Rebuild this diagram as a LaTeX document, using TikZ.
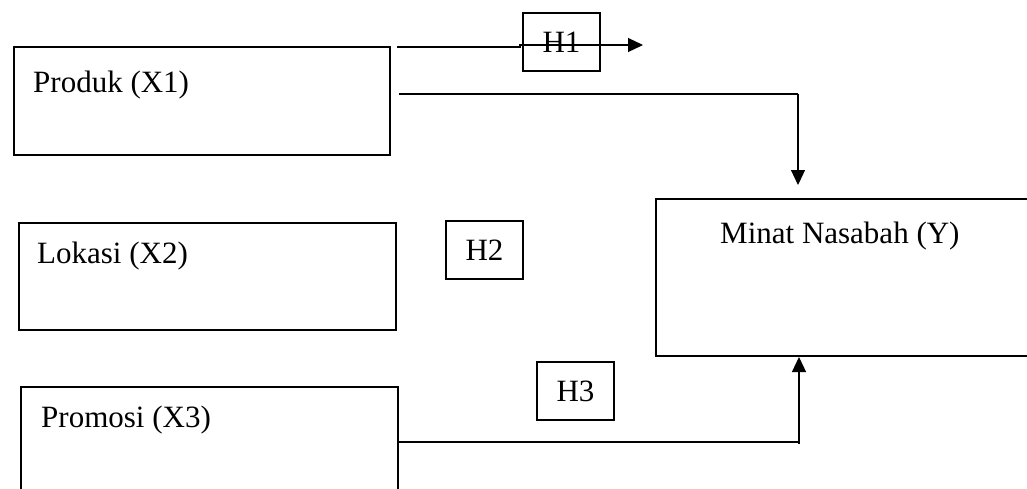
\documentclass[tikz,border=0pt]{standalone}
\usepackage{fontspec}
\setmainfont{Liberation Serif}
\usetikzlibrary{arrows.meta,calc}
\tikzset{
  box/.style={draw, line width=2pt, rectangle, inner sep=0pt, anchor=north west},
  hbox/.style={draw, line width=2pt, rectangle, inner sep=0pt, minimum width=77pt, minimum height=58pt, font=\fontsize{31}{36}\selectfont},
  txt/.style={inner sep=0pt, anchor=base west, font=\fontsize{31}{36}\selectfont},
  hline/.style={line width=1.8pt},
  vline/.style={line width=1.2pt},
  tip/.style={-{Triangle[length=15pt,width=14pt]}}
}
\begin{document}
\begin{tikzpicture}[x=1pt,y=-1pt]
\useasboundingbox (0,0) rectangle (1027,488);
\clip (0,0) rectangle (1027,488);
% boxes
\node[box, minimum width=376pt, minimum height=108pt] (X1) at (13,46) {};
\node[box, minimum width=377pt, minimum height=107pt] (X2) at (18,222) {};
\node[box, minimum width=377pt, minimum height=110pt] (X3) at (20,386) {};
\node[box, minimum width=385pt, minimum height=157pt] (Y) at (655,198) {};
% texts
\node[txt] (tX1) at (33,92) {Produk (X1)};
\node[txt] (tX2) at (37,263) {Lokasi (X2)};
\node[txt] (tX3) at (41,427) {Promosi (X3)};
\node[txt] (tY) at (720,243) {Minat Nasabah (Y)};
% hypothesis boxes
\node[hbox] (H1) at (561.5,42) {H1};
\node[hbox] (H2) at (484.5,250) {H2};
\node[hbox] (H3) at (575.5,391) {H3};
% connectors
\coordinate (a1s) at ($(X1.north east)+(6,1)$);
\coordinate (a1e) at ($(H1.east)+(42,3)$);
\draw[line width=1.2pt, tip] (a1s) -- ($(a1s)+(123,0)$) -- ($(a1s)+(123,-2)$) -- (a1e);
\coordinate (a2s) at ($(X1.east)+(8,-7)$);
\coordinate (a2e) at ($(Y.north west)+(143,-13)$);
\coordinate (a2c) at (a2s -| a2e);
\draw[hline] (a2s) -- (a2c);
\draw[vline, tip] (a2c) -- (a2e);
\coordinate (a3e) at ($(Y.south west)+(144,0)$);
\coordinate (a3c) at (X3.east -| a3e);
\draw[hline] (X3.east) -- (a3c);
\draw[vline, tip] ($(a3c)+(0,2)$) -- (a3e);
\end{tikzpicture}
\end{document}
